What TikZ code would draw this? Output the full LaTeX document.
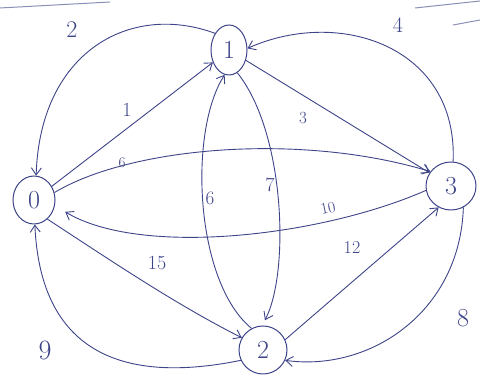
\documentclass[tikz,border=0pt]{standalone}
\usetikzlibrary{arrows.meta,shapes.geometric}
\definecolor{ink}{HTML}{3E4488}
\begin{document}
\begin{tikzpicture}[x=1pt,y=1pt,
  vert/.style={draw=ink, ellipse, inner sep=0pt, line width=1pt, text=ink,
    font=\fontsize{26}{26}\selectfont},
  edge/.style={draw=ink, line width=0.9pt, -{Straight Barb[length=7pt,width=10pt]}},
  lbl/.style={text=ink, inner sep=0pt},
  stray/.style={draw=ink!60, line width=1pt}]
\useasboundingbox (0,0) rectangle (480,382);
\fill[white] (0,0) rectangle (480,382);
% vertices
\node[vert, minimum width=42pt, minimum height=48pt] (n0) at (34,182) {0};
\node[vert, minimum width=36pt, minimum height=50pt] (n1) at (229,332) {1};
\node[vert, minimum width=48pt, minimum height=48pt] (n2) at (263,32) {2};
\node[vert, minimum width=50pt, minimum height=48pt] (n3) at (451,196) {3};
% edges
\draw[edge] (n0) -- (n1);
\draw[edge] (n1.130) .. controls (130,380) and (40,330) .. (n0.85);
\draw[edge] (n1) -- (n3);
\draw[edge] (n3.85) .. controls (458,335) and (340,375) .. (n1.5);
\draw[edge] (n0.20) .. controls (130,235) and (300,250) .. (n3.145);
\draw[edge, shorten >=12pt] (n3.190) .. controls (320,145) and (140,125) .. (n0.345);
\draw[edge] (n0.-55) .. controls (110,122) and (175,78) .. (n2.150);
\draw[edge] (n2.205) .. controls (110,-5) and (40,40) .. (n0.-88);
\draw[edge, shorten >=6pt] (n1.-70) .. controls (285,250) and (290,110) .. (n2.92);
\draw[edge] (n2.118) .. controls (195,100) and (188,250) .. (n1.-100);
\draw[edge] (n2.25) -- (n3.240);
\draw[edge] (n3.-60) .. controls (460,70) and (370,10) .. (n2.-25);
% labels
\node[lbl, font=\fontsize{24}{24}\selectfont] (l2) at (72,352) {2};
\node[lbl, font=\fontsize{20}{20}\selectfont] (l1) at (127,272) {1};
\node[lbl, font=\fontsize{15}{15}\selectfont] (l6a) at (122,219) {6};
\node[lbl, font=\fontsize{17}{17}\selectfont] (l3) at (303,264) {3};
\node[lbl, font=\fontsize{22}{22}\selectfont] (l4) at (398,357) {4};
\node[lbl, font=\fontsize{19}{19}\selectfont] (l6b) at (210,184) {6};
\node[lbl, font=\fontsize{20}{20}\selectfont] (l7) at (270,197) {7};
\node[lbl, font=\fontsize{16}{16}\selectfont, rotate=12] (l10) at (328,174) {10};
\node[lbl, font=\fontsize{18}{18}\selectfont] (l12) at (352,134) {12};
\node[lbl, font=\fontsize{20}{20}\selectfont] (l15) at (157,119) {15};
\node[lbl, font=\fontsize{28}{28}\selectfont] (l9) at (45,32) {9};
\node[lbl, font=\fontsize{26}{26}\selectfont] (l8) at (463,64) {8};
% stray page lines
\draw[stray] (0,374) -- (110,380);
\draw[stray] (415,374) -- (480,381);
\draw[stray] (453,357) -- (480,362);
\end{tikzpicture}
\end{document}
